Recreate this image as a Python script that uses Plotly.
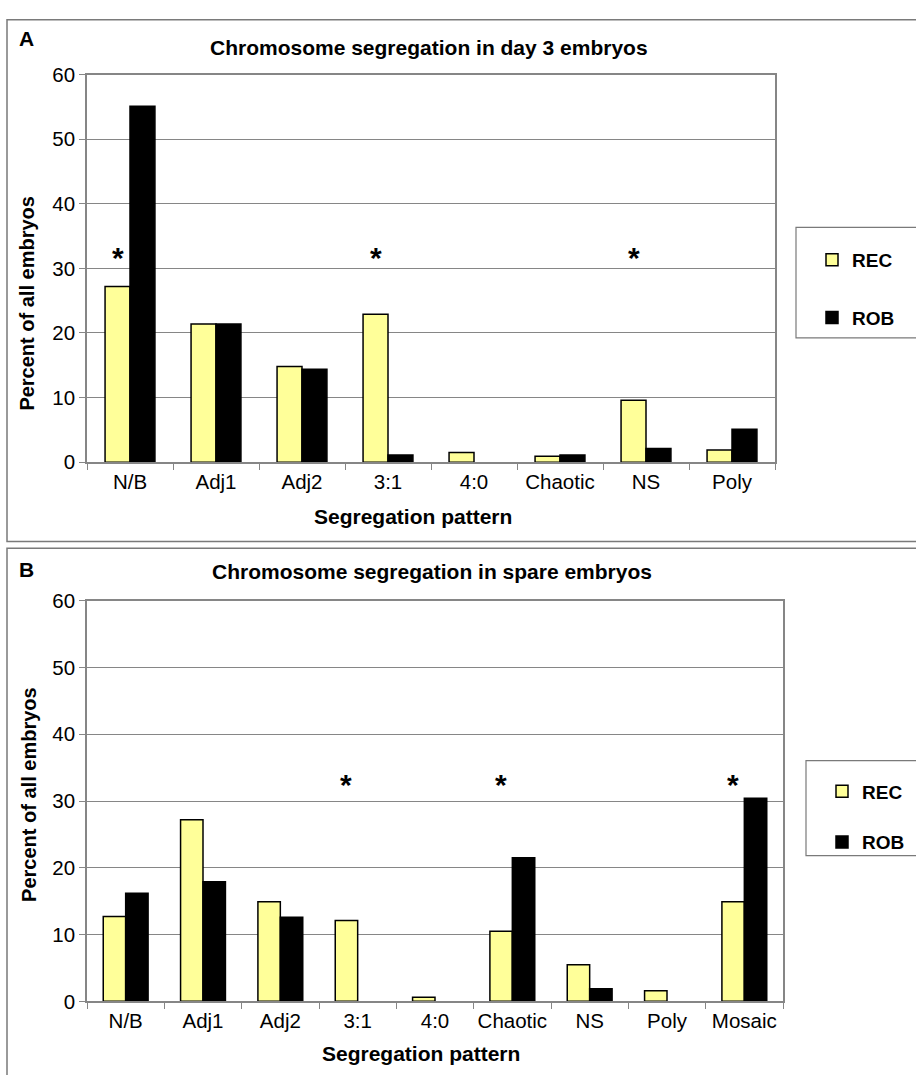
import plotly.graph_objects as go

# ---------------- data ----------------
cats_a = ["N/B", "Adj1", "Adj2", "3:1", "4:0", "Chaotic", "NS", "Poly"]
rec_a = [27.2, 21.4, 14.8, 22.9, 1.5, 0.9, 9.6, 1.9]
rob_a = [55.1, 21.4, 14.4, 1.1, 0, 1.1, 2.1, 5.1]
star_cats_a = ["N/B", "3:1", "NS"]
star_y_a = 32.7

cats_b = ["N/B", "Adj1", "Adj2", "3:1", "4:0", "Chaotic", "NS", "Poly", "Mosaic"]
rec_b = [12.7, 27.2, 14.9, 12.1, 0.6, 10.5, 5.5, 1.6, 14.9]
rob_b = [16.2, 17.9, 12.6, 0, 0, 21.5, 1.9, 0, 30.4]
star_cats_b = ["3:1", "Chaotic", "Mosaic"]
star_y_b = 33.5

series_names = ["REC", "ROB"]
title_a = "Chromosome segregation in day 3 embryos"
title_b = "Chromosome segregation in spare embryos"
y_title = "Percent of all embryos"
x_title = "Segregation pattern"
y_ticks = [0, 10, 20, 30, 40, 50, 60]

# ---------------- style ----------------
W, H = 916, 1075
FONT = "Liberation Sans, Arial, sans-serif"
GRID = "#868686"
REC_COLOR = "#FFFF99"
ROB_COLOR = "#000000"
BARGAP = 0.42


def px(x):
    return x / W


def py(y):
    return 1 - y / H


def nz(vals):
    # zero-height bars are not drawn in the original
    return [v if v else None for v in vals]


xa_dom = [px(87), px(775)]
ya_dom = [py(460), py(64)]
xb_dom = [px(87), px(783)]
yb_dom = [py(1011), py(601.5)]

fig = go.Figure()

fig.add_trace(go.Bar(x=cats_a, y=nz(rec_a), name=series_names[0], xaxis="x", yaxis="y",
                     marker=dict(color=REC_COLOR, line=dict(color="black", width=1.5)),
                     legend="legend", legendgroup="a_rec"))
fig.add_trace(go.Bar(x=cats_a, y=nz(rob_a), name=series_names[1], xaxis="x", yaxis="y",
                     marker=dict(color=ROB_COLOR, line=dict(color="black", width=1.5)),
                     legend="legend", legendgroup="a_rob"))
fig.add_trace(go.Bar(x=cats_b, y=nz(rec_b), name=series_names[0], xaxis="x2", yaxis="y2",
                     marker=dict(color=REC_COLOR, line=dict(color="black", width=1.5)),
                     legend="legend2", legendgroup="b_rec"))
fig.add_trace(go.Bar(x=cats_b, y=nz(rob_b), name=series_names[1], xaxis="x2", yaxis="y2",
                     marker=dict(color=ROB_COLOR, line=dict(color="black", width=1.5)),
                     legend="legend2", legendgroup="b_rob"))

xaxis_common = dict(type="category", showgrid=False, showline=True, linecolor=GRID, linewidth=1.5,
                    mirror=True, ticks="outside", tickson="boundaries", ticklen=6, tickcolor=GRID,
                    tickangle=0,
                    tickfont=dict(family=FONT, size=20.5, color="black"), fixedrange=True)
yaxis_common = dict(range=[0, 60], tickvals=y_ticks, showgrid=True, gridcolor=GRID, gridwidth=1.2,
                    showline=True, linecolor=GRID, linewidth=1.5, mirror=True, ticks="outside",
                    ticklen=6, tickcolor=GRID, zeroline=False,
                    tickfont=dict(family=FONT, size=20.5, color="black"), fixedrange=True)

annotations = []


def star_annots(cats, star_cats, ystar, xref, yref, dom):
    catw = (dom[1] - dom[0]) * W / len(cats)
    shift = -(1 - BARGAP) * catw / 4
    out = []
    for c in star_cats:
        out.append(dict(x=c, y=ystar, xref=xref, yref=yref, text="<b>*</b>", showarrow=False,
                        xshift=shift, yshift=-7, yanchor="middle",
                        font=dict(family=FONT, size=30, color="black")))
    return out


annotations += star_annots(cats_a, star_cats_a, star_y_a, "x", "y", xa_dom)
annotations += star_annots(cats_b, star_cats_b, star_y_b, "x2", "y2", xb_dom)


def txt(x, y, s, size, angle=0, anchor="center"):
    return dict(x=px(x), y=py(y), xref="paper", yref="paper", text="<b>" + s + "</b>",
                showarrow=False, textangle=angle, xanchor=anchor, yanchor="middle",
                font=dict(family=FONT, size=size, color="black"))


annotations += [
    txt(17, 27.5, "A", 21, anchor="left"),
    txt(429, 36, title_a, 21),
    txt(27, 298, y_title, 20, angle=-90),
    txt(413, 516, x_title, 21),
    txt(17, 569.5, "B", 21, anchor="left"),
    txt(432, 572, title_b, 21),
    txt(29, 800, y_title, 20, angle=-90),
    txt(421, 1064, x_title, 21),
]

shapes = [
    dict(type="rect", xref="paper", yref="paper", x0=px(7), x1=px(930), y0=py(541), y1=py(8),
         line=dict(color="#7a7a7a", width=1.5), fillcolor="rgba(0,0,0,0)"),
    dict(type="rect", xref="paper", yref="paper", x0=px(7), x1=px(930), y0=py(1090), y1=py(548),
         line=dict(color="#7a7a7a", width=1.5), fillcolor="rgba(0,0,0,0)"),
    dict(type="rect", xref="paper", yref="paper", x0=px(796), x1=px(930), y0=py(333), y1=py(220),
         line=dict(color="#7a7a7a", width=1.2), fillcolor="rgba(0,0,0,0)"),
    dict(type="rect", xref="paper", yref="paper", x0=px(806), x1=px(930), y0=py(862), y1=py(765),
         line=dict(color="#7a7a7a", width=1.2), fillcolor="rgba(0,0,0,0)"),
]

legend_font = dict(family=FONT, size=19, color="black", weight="bold")

fig.update_layout(
    width=W, height=H,
    margin=dict(l=0, r=0, t=0, b=0),
    paper_bgcolor="white", plot_bgcolor="white",
    barmode="group", bargap=BARGAP, bargroupgap=0,
    xaxis=dict(domain=xa_dom, anchor="y", **xaxis_common),
    yaxis=dict(domain=ya_dom, anchor="x", **yaxis_common),
    xaxis2=dict(domain=xb_dom, anchor="y2", **xaxis_common),
    yaxis2=dict(domain=yb_dom, anchor="x2", **yaxis_common),
    legend=dict(x=px(812), y=py(234), xanchor="left", yanchor="top", bgcolor="rgba(0,0,0,0)",
                font=legend_font, itemwidth=30, tracegroupgap=30),
    legend2=dict(x=px(822), y=py(777), xanchor="left", yanchor="top", bgcolor="rgba(0,0,0,0)",
                 font=legend_font, itemwidth=30, tracegroupgap=23),
    annotations=annotations,
    shapes=shapes,
    showlegend=True,
)

fig.write_html("out.html", config={"displayModeBar": False},
               post_script="document.body.style.margin='0';")
